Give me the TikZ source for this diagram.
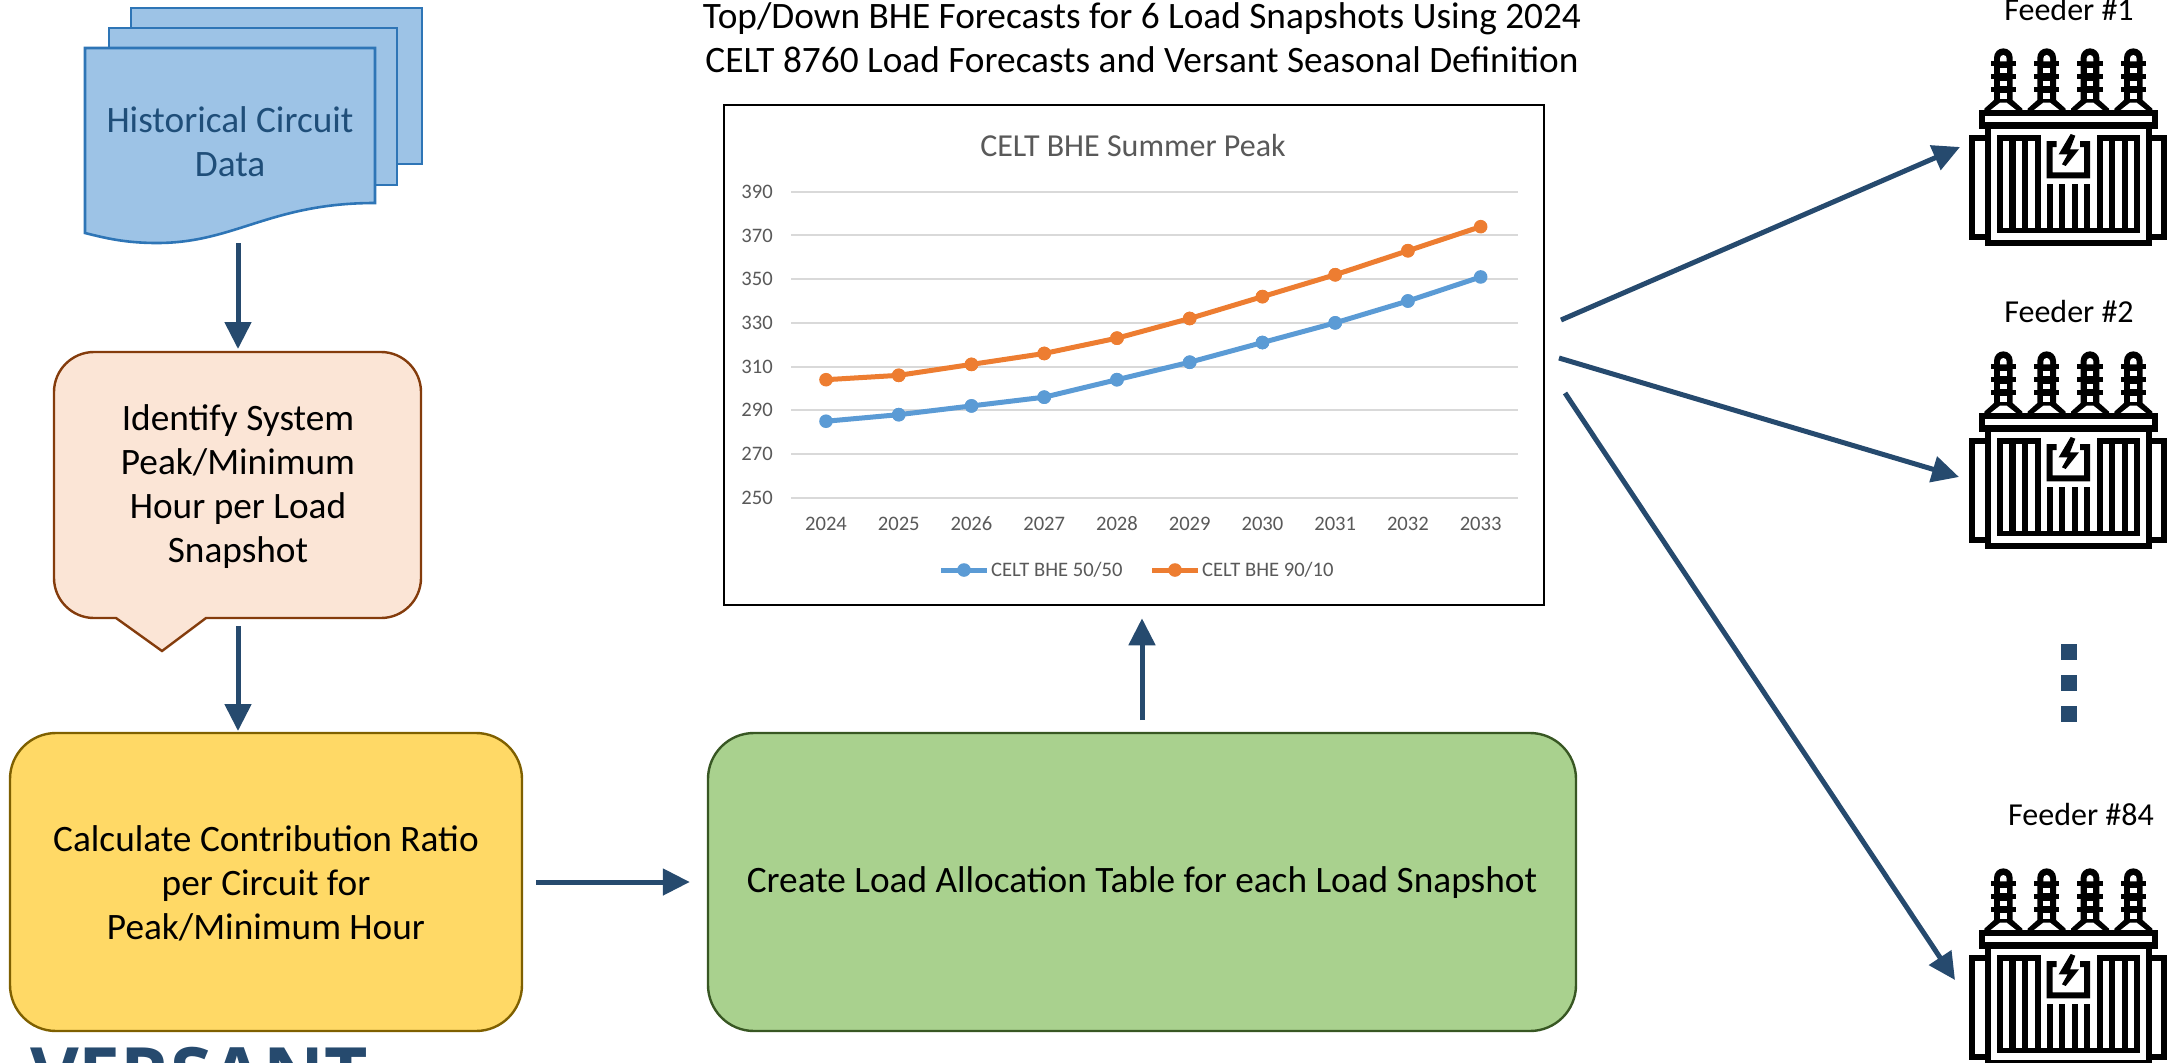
\documentclass[tikz,border=0pt]{standalone}
\usepackage{fontspec}
\setmainfont{Carlito}
\newfontfamily\logofont{Open Sans}
\usetikzlibrary{arrows.meta,calc}
\definecolor{navy}{HTML}{264A6E}
\definecolor{docfill}{HTML}{9DC3E6}
\definecolor{docline}{HTML}{2E75B6}
\definecolor{doctext}{HTML}{1F4E79}
\definecolor{peach}{HTML}{FBE5D6}
\definecolor{peachline}{HTML}{843C0C}
\definecolor{gold}{HTML}{FFD966}
\definecolor{goldline}{HTML}{7F6000}
\definecolor{leaf}{HTML}{A9D18E}
\definecolor{leafline}{HTML}{385723}
\definecolor{gridc}{HTML}{D9D9D9}
\definecolor{chtext}{HTML}{595959}
\definecolor{serA}{HTML}{5B9BD5}
\definecolor{serB}{HTML}{ED7D31}
\tikzset{
  flow/.style={draw=navy,line width=5pt,-{Triangle[length=27pt,width=26pt]}},
  docshape/.style={draw=docline,fill=docfill,line width=2.6pt,line join=miter},
  bigbox/.style={rounded corners=46pt,line width=2.4pt,inner sep=0pt,align=center},
  label/.style={font=\fontsize{37.3}{44}\selectfont,align=center,inner sep=0pt,text=black},
  feeder/.style={font=\fontsize{32}{36}\selectfont,inner sep=0pt,text=black,anchor=base},
  tick/.style={font=\fontsize{20.6}{24}\selectfont,inner sep=0pt,text=chtext},
  gridline/.style={draw=gridc,line width=2pt},
  series/.style={line width=5pt,line join=round},
}
\newcommand{\insulator}[1]{%
  \fill[black] (#1-28,300) -- (#1-28,173) arc[start angle=180,end angle=360,radius=28] -- (#1+28,300) -- (#1+57,326) -- (#1+57,340) -- (#1-57,340) -- (#1-57,326) -- cycle;
  \foreach \yy in {183,222,262}{\fill[black] (#1-38,\yy) rectangle (#1+38,\yy+15);}
  \fill[white] (#1-10,184) -- (#1-10,175) arc[start angle=180,end angle=360,radius=10] -- (#1+10,184) -- cycle;
  \fill[white] (#1-10,204) rectangle (#1+10,220);
  \fill[white] (#1-10,242) rectangle (#1+10,259);
  \fill[white] (#1-10,279) rectangle (#1+10,296);
  \fill[white] (#1-10,308) -- (#1+10,308) -- (#1+38,330) -- (#1-38,330) -- cycle;
}
\newcommand{\transformer}[2]{%
\begin{scope}[shift={(#1,#2)},x=0.33333pt,y=-0.33333pt]
  \insulator{310}\insulator{440}\insulator{570}\insulator{700}
  \fill[black] (237,330) rectangle (773,386);
  \fill[white] (255,349) rectangle (755,367);
  \fill[black] (208,405) rectangle (802,719);
  \fill[white] (226,423) rectangle (784,701);
  \fill[black] (255,367) rectangle (755,738);
  \fill[white] (274,386) rectangle (737,719);
  \fill[black] (290,405) rectangle (422,700);
  \fill[black] (590,405) rectangle (720,700);
  \fill[black] (422,683) rectangle (590,700);
  \foreach \xx in {308,347,385,608,646,683}{\fill[white] (\xx,423) rectangle (\xx+20,683);}
  \foreach \xx in {440,478,515,552}{\fill[black] (\xx,552) rectangle (\xx+18,683);}
  \fill[black] (440,423) -- (470,423) -- (470,441) -- (458,441) -- (458,517) -- (552,517) -- (552,441) -- (540,441) -- (540,423) -- (570,423) -- (570,535) -- (440,535) -- cycle;
  \fill[black] (512,402) -- (526,407) -- (510,448) -- (537,448) -- (497,498) -- (486,493) -- (503,463) -- (476,463) -- cycle;
\end{scope}}
\begin{document}
\begin{tikzpicture}[x=1pt,y=-1pt]
\useasboundingbox (0,0) rectangle (2172,1063);
\clip (0,0) rectangle (2172,1063);
% document stack
\draw[docshape] (131,8) -- (422,8) -- (422,164) -- (380,164) -- (131,164) -- cycle;
\draw[docshape] (109,28) -- (397,28) -- (397,185) -- (109,185) -- cycle;
\draw[docshape] (85,48) -- (375,48) -- (375,203) .. controls (270,203) and (235,243) .. (157,243) .. controls (125,243) and (105,238) .. (85,233) -- cycle;
\node[label,text=doctext] (hist) at (230,142) {Historical Circuit\\Data};
\coordinate (histout) at (238,243);
% callout
\draw[fill=peach,draw=peachline,line width=2.4pt] (206,618) -- (381,618) .. controls (403,618) and (421,600) .. (421,578) -- (421,392) .. controls (421,370) and (403,352) .. (381,352) -- (94,352) .. controls (72,352) and (54,370) .. (54,392) -- (54,578) .. controls (54,600) and (72,618) .. (94,618) -- (116,618) -- (162,651) -- cycle;
\node[label] (peak) at (238,486.5) {Identify System\\Peak/Minimum\\Hour per Load\\Snapshot};
\coordinate (peakin) at (238,349);
\coordinate (peakout) at (238,626);
% boxes
\node[bigbox,draw=goldline,fill=gold,minimum width=512pt,minimum height=298pt] (ratio) at (266,882) {};
\node[label] (ratiotext) at (266,883) {Calculate Contribution Ratio\\per Circuit for\\Peak/Minimum Hour};
\node[bigbox,draw=leafline,fill=leaf,minimum width=868pt,minimum height=298pt] (alloc) at (1142,882) {};
\node[label] (alloctext) at (1142,883) {Create Load Allocation Table for each Load Snapshot};
\coordinate (ratioin) at (238,731);
% connectors
\draw[flow] (histout) -- (peakin);
\draw[flow] (peakout) -- (ratioin);
\draw[flow,shorten <=13pt,shorten >=17pt] (ratio.east) -- (alloc.west);
% title
\node[label] (title) at (1142,38) {Top/Down BHE Forecasts for 6 Load Snapshots Using 2024\\CELT 8760 Load Forecasts and Versant Seasonal Definition};
% chart
\node[draw=black,line width=2.6pt,fill=white,minimum width=820pt,minimum height=500pt,inner sep=0pt] (chart) at (1134,355) {};
\draw[flow,shorten <=13pt,shorten >=12pt] (alloc.north |- 0,733) -- (chart.south -| alloc.north);
\node[font=\fontsize{32}{36}\selectfont,text=chtext,inner sep=0pt] (ctitle) at (1133,146) {CELT BHE Summer Peak};
\foreach \v in {250,270,...,390}{
  \pgfmathsetmacro{\yy}{191.7+(390-\v)*2.186}
  \draw[gridline] (791,\yy) -- (1518,\yy);
  \node[tick,anchor=east] (yl\v) at (773,\yy) {\v};
}
\foreach \yr [count=\i from 0] in {2024,...,2033}{
  \pgfmathsetmacro{\xx}{826+\i*72.74}
  \node[tick] (xl\yr) at (\xx,524) {\yr};
}
\newcommand{\plotseries}[2]{%
  \foreach \a/\b [count=\i from 0] in {#2}{
    \pgfmathsetmacro{\xa}{826+\i*72.74}
    \pgfmathsetmacro{\xb}{826+(\i+1)*72.74}
    \pgfmathsetmacro{\ya}{191.7+(390-\a)*2.186}
    \pgfmathsetmacro{\yb}{191.7+(390-\b)*2.186}
    \draw[series,#1,line cap=round] (\xa,\ya) -- (\xb,\yb);
    \fill[#1] (\xa,\ya) circle[radius=6.8pt];
    \fill[#1] (\xb,\yb) circle[radius=6.8pt];
  }}
\plotseries{serA}{285/288,288/292,292/296,296/304,304/312,312/321,321/330,330/340,340/351}
\plotseries{serB}{304/306,306/311,311/316,316/323,323/332,332/342,342/352,352/363,363/374}
\draw[series,serA] (941,570) -- (987,570);
\fill[serA] (964,570) circle[radius=6.8pt];
\node[tick,anchor=west] (legA) at (991,570) {CELT BHE 50/50};
\draw[series,serB] (1152,570) -- (1198,570);
\fill[serB] (1175,570) circle[radius=6.8pt];
\node[tick,anchor=west] (legB) at (1202,570) {CELT BHE 90/10};
% feeders
\node[feeder] (f1) at (2069,20) {Feeder \#1};
\node[feeder] (f2) at (2069,322) {Feeder \#2};
\node[feeder] (f84) at (2081,825) {Feeder \#84};
\transformer{1900}{0}
\transformer{1900}{303}
\transformer{1900}{820}
\coordinate (t1) at (1960,147);
\coordinate (t2) at (1959,477);
\coordinate (t84) at (1955,980);
\coordinate (o1) at (1561,320);
\coordinate (o2) at (1559,358);
\coordinate (o84) at (1565,393);
\draw[flow] (o1) -- (t1);
\draw[flow] (o2) -- (t2);
\draw[flow] (o84) -- (t84);
\fill[navy] (2061,644) rectangle (2077,660);
\fill[navy] (2061,675) rectangle (2077,691);
\fill[navy] (2061,706) rectangle (2077,722);
% logo
\node[font=\logofont\bfseries\fontsize{75}{80}\selectfont,text=navy,inner sep=0pt,anchor=base west] (logo) at (30,1101) {VERSANT};
\end{tikzpicture}
\end{document}
